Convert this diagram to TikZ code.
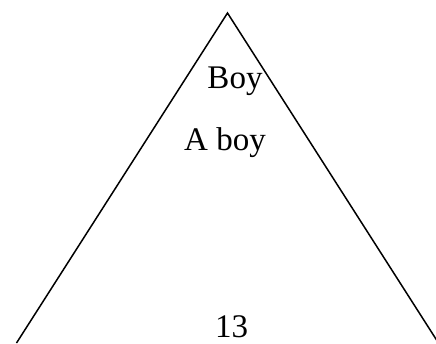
\documentclass[tikz,border=0pt]{standalone}
\usepackage{fontspec}
\setmainfont{Liberation Serif}
\usetikzlibrary{positioning}

\tikzset{word/.style={anchor=base, inner sep=0pt, font=\fontsize{33}{38}\selectfont}}

\begin{document}
\begin{tikzpicture}[x=1pt, y=-1pt]
\useasboundingbox (0,0) rectangle (436,343);
\clip (0,0) rectangle (436,343);

\coordinate (top) at (227.5,13);
\coordinate (left) at (16.5,343);
\coordinate (right) at (438.5,343);

\draw[line width = 1.5pt, line join=miter] (left) -- (top) -- (right);

\node[word] (boy) at (235,88) {Boy};
\node[word] (aboy) at (225,150) {A boy};
\node[word] (num) at (231.5,337) {13};

\end{tikzpicture}
\end{document}
